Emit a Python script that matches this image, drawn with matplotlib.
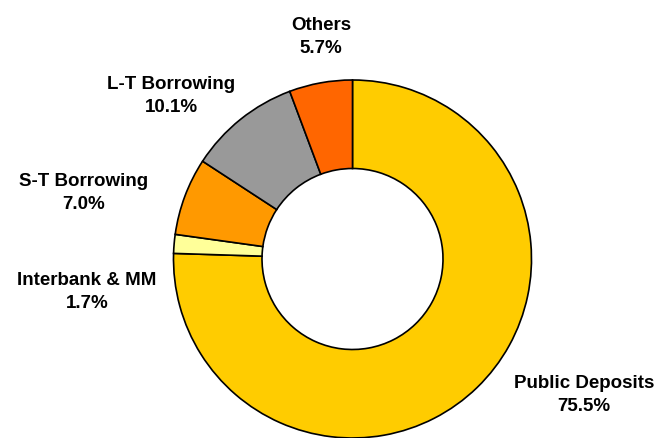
import matplotlib.pyplot as plt

# Funding mix, shares in percent
categories = ['Public Deposits', 'Interbank & MM', 'S-T Borrowing', 'L-T Borrowing', 'Others']
shares = [75.5, 1.7, 7.0, 10.1, 5.7]
colors = ['#FFCC00', '#FFFF99', '#FF9900', '#999999', '#FF6600']

# label anchor points (pixels from top-left of the canvas)
label_pos = [(584, 395), (87, 292), (84, 193), (171, 96), (321, 37)]

W, H = 662, 439
fig = plt.figure(figsize=(W / 100, H / 100), dpi=100)
ax = fig.add_axes([0, 0, 1, 1])

cx, cy = 352.5, H - 260
r_out = 179
r_in = 90.5

ax.pie(shares, colors=colors, startangle=90, counterclock=False,
       center=(cx, cy), radius=r_out, frame=True,
       wedgeprops=dict(width=r_out - r_in, edgecolor='black', linewidth=1.2))
ax.set_xlim(0, W)
ax.set_ylim(0, H)
ax.set_aspect('equal')
ax.axis('off')

for name, val, (px, py) in zip(categories, shares, label_pos):
    ax.text(px, H - py, f'{name}\n{val:.1f}%', ha='center', va='center',
            fontsize=13.5, fontweight='bold', family='Liberation Sans',
            linespacing=1.4, color='black')

plt.savefig('out.png', dpi=100)
